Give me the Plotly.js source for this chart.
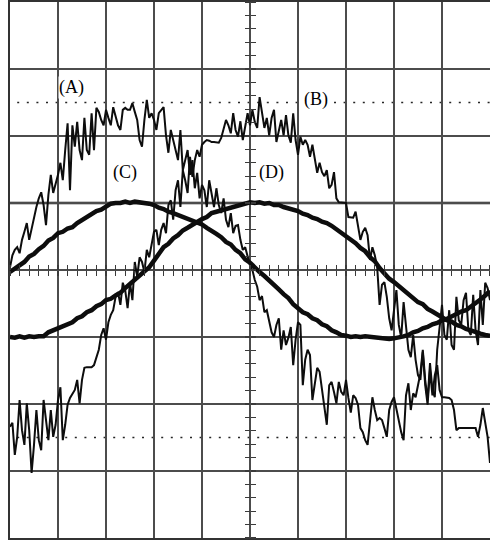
<!DOCTYPE html>
<html>
<head>
<meta charset="utf-8">
<script src="https://cdn.plot.ly/plotly-3.0.1.min.js"></script>
<style>
  html, body { margin: 0; padding: 0; background: #fff; overflow: hidden; }
  #scope { width: 490px; height: 540px; }
</style>
</head>
<body>
<div id="scope"></div>
<script>
// Screen: 10 horizontal divisions x 8 vertical divisions, centre at (0, 0).
const X_DIVS = [-5, 5];
const Y_DIVS = [-4, 4];

// Sampling of the captured channels (in divisions).
const NOISY_START = -5, NOISY_STEP = 0.05;
const SMOOTH_START = -5, SMOOTH_STEP = 0.1;

// Channel (A): noisy waveform, 201 samples.
const traceA = [
  0.04, 0.22, 0.30, 0.34, 0.25, 0.45, 0.57, 0.70, 0.45, 0.63,
  0.78, 0.94, 1.07, 1.16, 0.97, 0.67, 1.12, 1.42, 1.15, 1.27,
  1.42, 1.60, 1.34, 1.79, 2.19, 1.19, 2.16, 1.84, 2.21, 1.79,
  1.64, 2.27, 1.79, 1.72, 2.34, 1.79, 2.42, 2.36, 2.24, 2.16,
  2.39, 2.27, 2.16, 2.43, 2.31, 2.16, 2.09, 2.39, 2.42, 2.39,
  2.39, 2.49, 2.36, 2.24, 1.94, 1.84, 2.24, 2.54, 2.27, 2.34,
  2.24, 2.09, 2.34, 2.39, 2.43, 2.01, 1.75, 2.09, 1.94, 1.76,
  1.64, 2.09, 1.49, 1.64, 1.79, 1.42, 1.64, 1.22, 1.45, 1.07,
  1.27, 1.19, 0.94, 1.34, 1.12, 0.94, 1.22, 0.97, 0.85, 1.07,
  0.75, 0.64, 0.85, 0.55, 0.66, 0.67, 0.45, 0.30, 0.34, 0.22,
  0.07, 0.00, -0.15, -0.25, -0.45, -0.39, -0.63, -0.60, -0.78, -0.93,
  -1.00, -0.82, -0.72, -1.19, -0.90, -1.12, -1.01, -0.85, -1.42, -1.04,
  -0.78, -0.82, -1.72, -1.34, -1.19, -1.27, -1.94, -1.72, -1.46, -1.52,
  -1.79, -2.09, -2.31, -1.72, -1.67, -1.82, -1.99, -1.67, -1.82, -1.87,
  -1.64, -1.91, -2.13, -1.87, -1.91, -2.01, -2.36, -2.42, -2.54, -2.61,
  -2.24, -1.90, -2.09, -2.24, -2.21, -2.24, -2.36, -2.49, -2.09, -1.97,
  -1.90, -2.09, -2.28, -2.42, -2.54, -1.87, -1.69, -2.09, -1.84, -1.90,
  -1.72, -1.54, -1.19, -1.64, -1.94, -1.39, -1.79, -1.90, -1.19, -0.90,
  -0.52, -0.97, -1.04, -0.60, -1.12, -1.19, -0.40, -0.75, -0.82, -0.45,
  -0.34, -0.90, -0.97, -0.37, -0.90, -1.12, -0.30, -0.82, -0.19, -0.27,
  -0.45
];

// Channel (B): noisy waveform, 201 samples.
const traceB = [
  -2.34, -2.28, -2.76, -2.49, -1.94, -2.39, -2.61, -1.99, -2.39, -3.03,
  -2.61, -2.09, -2.54, -2.69, -1.94, -2.24, -2.54, -2.09, -2.49, -2.31,
  -1.94, -1.75, -2.54, -2.31, -2.01, -1.91, -1.84, -1.79, -1.64, -1.99,
  -1.64, -1.46, -1.45, -1.45, -1.45, -1.42, -1.30, -1.19, -0.97, -0.87,
  -1.04, -0.78, -0.67, -0.60, -0.40, -0.33, -0.52, -0.19, -0.30, -0.57,
  -0.19, -0.45, 0.12, -0.10, 0.19, 0.12, -0.03, 0.30, 0.19, 0.37,
  0.57, 0.60, 0.37, 0.60, 0.70, 0.55, 0.97, 1.04, 0.75, 1.19,
  1.34, 0.94, 1.49, 1.34, 1.15, 1.69, 1.39, 1.64, 1.79, 1.69,
  1.87, 1.91, 1.94, 1.93, 1.91, 1.91, 1.90, 1.90, 1.97, 2.09,
  2.24, 2.16, 2.04, 2.34, 2.09, 1.99, 2.22, 1.94, 2.16, 2.34,
  2.16, 2.39, 2.21, 2.12, 2.58, 2.31, 2.12, 2.27, 2.01, 2.27,
  2.39, 1.91, 2.09, 2.24, 2.01, 2.31, 2.01, 1.90, 2.34, 1.94,
  1.72, 1.99, 1.87, 1.94, 1.87, 1.69, 1.87, 1.64, 1.45, 1.60,
  1.46, 1.40, 1.49, 1.22, 1.27, 1.46, 1.07, 1.01, 1.01, 1.01,
  1.00, 0.79, 0.78, 0.78, 0.87, 0.63, 0.45, 0.57, 0.63, 0.52,
  0.15, 0.34, 0.22, 0.04, -0.52, -0.22, -0.18, -0.40, -0.72, -0.90,
  -0.60, -0.30, -0.82, -1.01, -0.48, -0.90, -1.19, -1.30, -0.97, -1.34,
  -1.57, -1.64, -1.22, -1.72, -2.01, -1.49, -1.87, -1.57, -1.42, -1.79,
  -1.90, -1.90, -1.90, -1.91, -1.94, -2.09, -2.39, -2.36, -2.36, -2.36,
  -2.36, -2.36, -2.36, -2.36, -2.36, -2.49, -2.31, -2.06, -2.31, -2.49,
  -2.88
];

// Channel (C): low-amplitude waveform, 101 samples.
const traceC = [
  -0.03, 0.02, 0.08, 0.12, 0.20, 0.24, 0.31, 0.36, 0.44, 0.48,
  0.55, 0.57, 0.62, 0.64, 0.70, 0.75, 0.79, 0.84, 0.88, 0.90,
  0.95, 0.99, 1.00, 1.00, 1.02, 1.00, 1.02, 1.01, 1.01, 0.99,
  0.97, 0.93, 0.91, 0.87, 0.85, 0.82, 0.80, 0.76, 0.74, 0.70,
  0.68, 0.63, 0.59, 0.54, 0.49, 0.42, 0.38, 0.30, 0.25, 0.16,
  0.11, 0.03, -0.03, -0.09, -0.15, -0.22, -0.29, -0.36, -0.42, -0.51,
  -0.57, -0.63, -0.66, -0.72, -0.75, -0.81, -0.84, -0.90, -0.93, -0.97,
  -0.98, -1.00, -0.99, -1.00, -0.99, -1.00, -1.00, -1.01, -1.02, -1.03,
  -1.02, -1.01, -0.99, -0.97, -0.93, -0.91, -0.87, -0.85, -0.81, -0.79,
  -0.75, -0.73, -0.69, -0.66, -0.62, -0.60, -0.55, -0.51, -0.44, -0.38,
  -0.31
];

// Channel (D): low-amplitude waveform, 101 samples.
const traceD = [
  -1.00, -1.01, -0.99, -1.01, -0.99, -1.00, -0.99, -0.99, -0.93, -0.90,
  -0.86, -0.84, -0.80, -0.78, -0.72, -0.69, -0.63, -0.60, -0.54, -0.51,
  -0.45, -0.43, -0.38, -0.34, -0.27, -0.21, -0.14, -0.09, -0.02, 0.04,
  0.14, 0.24, 0.34, 0.39, 0.47, 0.52, 0.59, 0.63, 0.68, 0.72,
  0.76, 0.79, 0.85, 0.87, 0.89, 0.91, 0.94, 0.96, 0.98, 0.99,
  1.01, 1.00, 1.01, 0.99, 1.00, 0.97, 0.97, 0.94, 0.92, 0.90,
  0.88, 0.84, 0.82, 0.78, 0.76, 0.72, 0.70, 0.66, 0.61, 0.54,
  0.50, 0.45, 0.40, 0.33, 0.28, 0.19, 0.13, 0.03, -0.05, -0.13,
  -0.18, -0.24, -0.29, -0.36, -0.41, -0.48, -0.51, -0.58, -0.62, -0.67,
  -0.71, -0.75, -0.77, -0.82, -0.84, -0.88, -0.90, -0.93, -0.95, -0.97,
  -0.98
];

// Channel labels and where they sit on the screen (divisions).
const labels = ['(A)', '(B)', '(C)', '(D)'];
const labelX = [-3.71, 1.38, -2.6, 0.45];
const labelY = [2.72, 2.55, 1.46, 1.45];

// Horizontal reference level and the two dotted cursors.
const REF_LEVEL = 1;
const CURSOR_LEVELS = [2.5, -2.5];

const INK = '#0d0d0d';
const GRID = '#4c4c4c';

const noisy = (y) => ({
  type: 'scatter', mode: 'lines', x0: NOISY_START, dx: NOISY_STEP, y: y,
  line: { color: INK, width: 2 }, hoverinfo: 'skip', showlegend: false
});
const smooth = (y) => ({
  type: 'scatter', mode: 'lines', x0: SMOOTH_START, dx: SMOOTH_STEP, y: y,
  line: { color: INK, width: 4.5 }, hoverinfo: 'skip', showlegend: false
});

const data = [
  smooth(traceC), smooth(traceD), noisy(traceA), noisy(traceB),
  // carriers for the graticule tick axes through the centre
  { type: 'scatter', x: [], y: [], xaxis: 'x2', yaxis: 'y2', hoverinfo: 'skip', showlegend: false },
  { type: 'scatter', x: [], y: [], xaxis: 'x3', yaxis: 'y3', hoverinfo: 'skip', showlegend: false }
];

const mainAxis = (range) => ({
  range: range, dtick: 1, tick0: 0, showgrid: true, gridcolor: GRID, gridwidth: 1.7,
  zeroline: true, zerolinecolor: GRID, zerolinewidth: 1.7,
  showline: true, linecolor: '#333', linewidth: 1.7, mirror: true,
  ticks: '', showticklabels: false, fixedrange: true
});
const tickAxis = (range, side, over) => ({
  range: range, overlaying: over, anchor: 'free', position: 0.5, side: side,
  dtick: 0.2, tick0: 0, ticks: 'outside', ticklen: 5, tickwidth: 1.2, tickcolor: '#3a3a3a',
  showgrid: false, zeroline: false, showline: false, showticklabels: false, fixedrange: true
});

const shapes = [
  { type: 'line', xref: 'paper', x0: 0, x1: 1, yref: 'y', y0: REF_LEVEL, y1: REF_LEVEL,
    line: { color: '#1e1e1e', width: 2.6 }, layer: 'below' }
].concat(CURSOR_LEVELS.map(v => ({
  type: 'line', xref: 'paper', x0: 0.015, x1: 1, yref: 'y', y0: v, y1: v,
  line: { color: '#262626', width: 1.6, dash: '2px,7.6px' }, layer: 'below'
})));

const annotations = labels.map((t, i) => ({
  text: t, x: labelX[i], y: labelY[i], xref: 'x', yref: 'y', showarrow: false,
  font: { family: 'Liberation Serif, Times New Roman, serif', size: 18, color: '#000' },
  bgcolor: '#ffffff', borderpad: 0
}));

const layout = {
  width: 490, height: 540,
  margin: { l: 10, r: 0, t: 2, b: 2, pad: 0 },
  paper_bgcolor: '#ffffff', plot_bgcolor: '#ffffff',
  showlegend: false,
  xaxis: mainAxis(X_DIVS),
  yaxis: mainAxis(Y_DIVS),
  xaxis2: tickAxis(X_DIVS, 'bottom', 'x'),
  yaxis2: tickAxis(Y_DIVS, 'left', 'y'),
  xaxis3: tickAxis(X_DIVS, 'top', 'x'),
  yaxis3: tickAxis(Y_DIVS, 'right', 'y'),
  shapes: shapes,
  annotations: annotations
};

Plotly.newPlot('scope', data, layout, { staticPlot: true, displayModeBar: false });
</script>
</body>
</html>
